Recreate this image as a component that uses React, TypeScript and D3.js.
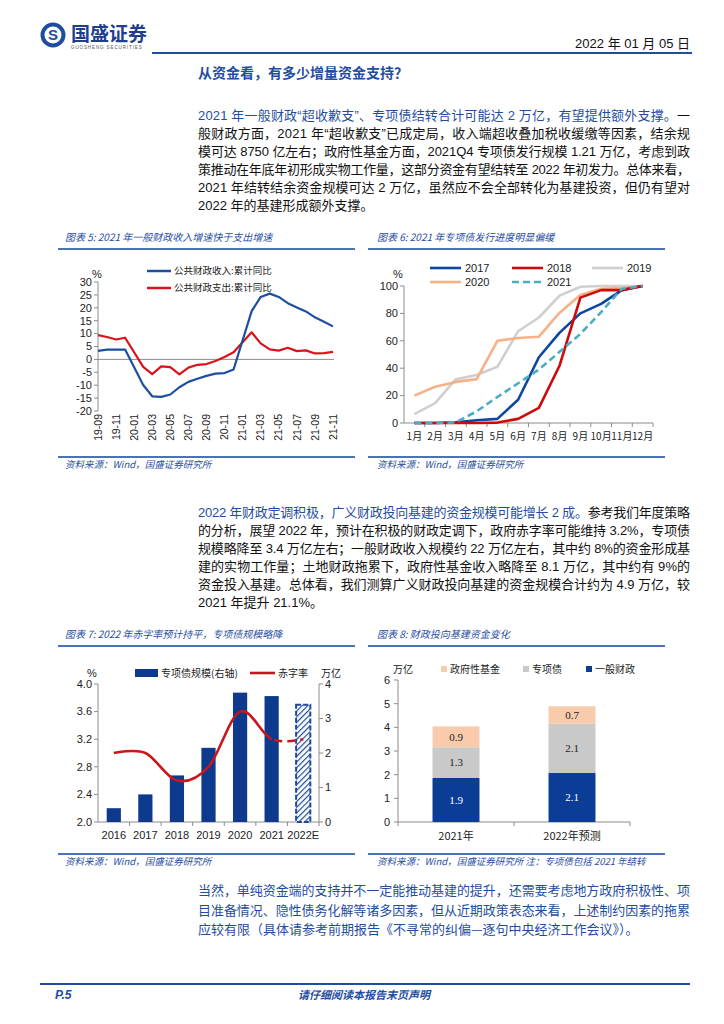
import React from "react";
import * as d3 from "d3";

const BLUE = "#1f4e9f";
const SANS = "'Liberation Sans', Arial, 'Noto Sans CJK SC', sans-serif";
const CJK = "'Noto Sans CJK SC', sans-serif";
const AXIS = "#8c8c8c";

// chart 5: 公共财政收入/支出 累计同比 (%)
const months5 = [
  "19-09", "19-10", "19-11", "19-12",
  "20-01", "20-02", "20-03", "20-04", "20-05", "20-06", "20-07", "20-08", "20-09", "20-10", "20-11", "20-12",
  "21-01", "21-02", "21-03", "21-04", "21-05", "21-06", "21-07", "21-08", "21-09", "21-10", "21-11",
];
const revenue5: (number | null)[] = [
  3.3, 3.8, 3.8, 3.8,
  null, -9.9, -14.3, -14.5, -13.6, -10.8, -8.7, -7.5, -6.4, -5.5, -5.3, -3.9,
  null, 18.7, 24.2, 25.5, 24.2, 21.8, 20.1, 18.6, 16.3, 14.6, 12.8,
];
const spending5: (number | null)[] = [
  9.4, 8.7, 7.7, 8.4,
  null, -2.9, -5.7, -2.7, -3.0, -5.8, -3.2, -2.1, -1.8, -0.6, 0.9, 2.8,
  null, 10.5, 6.2, 3.9, 3.4, 4.5, 3.2, 3.5, 2.3, 2.4, 2.9,
];

// chart 6: 专项债发行进度 (%)
const months6 = ["1月", "2月", "3月", "4月", "5月", "6月", "7月", "8月", "9月", "10月", "11月", "12月"];
const issue2017 = [0, 0, 0.5, 2, 3, 17, 48, 66, 80, 87, 97, 100];
const issue2018 = [0, 0, 0, 0, 0.3, 3, 11, 42, 91.5, 97, 97, 100];
const issue2019 = [6.5, 14.5, 32, 35, 41, 67, 77, 93, 99.5, 100, 100, 100];
const issue2020 = [20, 26.5, 30, 32, 60, 62, 63, 80.5, 93.5, 98, 98.5, 100];
const issue2021 = [0, 0, 0.5, 8.5, 19, 29, 39, 52, 65, 81, 98, 100];
const series6 = [
  { name: "2017", values: issue2017, color: "#0b46a1", dash: "" },
  { name: "2018", values: issue2018, color: "#cc0a0a", dash: "" },
  { name: "2019", values: issue2019, color: "#cfcfcf", dash: "" },
  { name: "2020", values: issue2020, color: "#f6b187", dash: "" },
  { name: "2021", values: issue2021, color: "#4bacc6", dash: "7,4" },
];

// chart 7: 专项债规模(万亿) & 赤字率(%)
const years7 = ["2016", "2017", "2018", "2019", "2020", "2021", "2022E"];
const bondScale7 = [0.4, 0.8, 1.35, 2.15, 3.75, 3.65, 3.4];
const deficit7 = [3.0, 3.0, 2.6, 2.8, 3.6, 3.2, 3.2];
const leftTicks7 = [2.0, 2.4, 2.8, 3.2, 3.6, 4.0];
const rightTicks7 = [0, 1, 2, 3, 4];

// chart 8: 财政投向基建资金 (万亿)
const cats8 = ["2021年", "2022年预测"];
const general8 = [1.86, 2.07];
const special8 = [1.3, 2.08];
const fund8 = [0.88, 0.74];

const para1 = [
  [["2021 年一般财政“超收歉支”、专项债结转合计可能达 2 万亿，有望提供额外支撑。", true], ["一", false]],
  [["般财政方面，2021 年“超收歉支”已成定局，收入端超收叠加税收缓缴等因素，结余规", false]],
  [["模可达 8750 亿左右；政府性基金方面，2021Q4 专项债发行规模 1.21 万亿，考虑到政", false]],
  [["策推动在年底年初形成实物工作量，这部分资金有望结转至 2022 年初发力。总体来看，", false]],
  [["2021 年结转结余资金规模可达 2 万亿，虽然应不会全部转化为基建投资，但仍有望对", false]],
  [["2022 年的基建形成额外支撑。", false]],
] as [string, boolean][][];

const para2 = [
  [["2022 年财政定调积极，广义财政投向基建的资金规模可能增长 2 成。", true], ["参考我们年度策略", false]],
  [["的分析，展望 2022 年，预计在积极的财政定调下，政府赤字率可能维持 3.2%，专项债", false]],
  [["规模略降至 3.4 万亿左右；一般财政收入规模约 22 万亿左右，其中约 8%的资金形成基", false]],
  [["建的实物工作量；土地财政拖累下，政府性基金收入略降至 8.1 万亿，其中约有 9%的", false]],
  [["资金投入基建。总体看，我们测算广义财政投向基建的资金规模合计约为 4.9 万亿，较", false]],
  [["2021 年提升 21.1%。", false]],
] as [string, boolean][][];

const para3 = [
  "当然，单纯资金端的支持并不一定能推动基建的提升，还需要考虑地方政府积极性、项",
  "目准备情况、隐性债务化解等诸多因素，但从近期政策表态来看，上述制约因素的拖累",
  "应较有限（具体请参考前期报告《不寻常的纠偏—逐句中央经济工作会议》）。",
];

const Paragraph = ({ lines, y0, step }: { lines: [string, boolean][][]; y0: number; step: number }) => (
  <g fontFamily={SANS} fontSize={13}>
    {lines.map((parts, i) => (
      <text
        key={i}
        x={198}
        y={y0 + i * step}
        textLength={i < lines.length - 1 ? 492 : undefined}
        lengthAdjust="spacing"
      >
        {parts.map(([t, blue], j) => (
          <tspan key={j} fill={blue ? BLUE : "#111"}>{t}</tspan>
        ))}
      </text>
    ))}
  </g>
);

const Caption = ({ x, y, x1, x2, text }: { x: number; y: number; x1: number; x2: number; text: string }) => (
  <g>
    <text x={x} y={y} fill={BLUE} fontSize={10} fontStyle="italic" fontFamily={CJK}>{text}</text>
    <line x1={x1} x2={x2} y1={y + 8} y2={y + 8} stroke="#4a72b8" strokeWidth={2} />
  </g>
);

const Source = ({ x, y, x1, x2, text }: { x: number; y: number; x1: number; x2: number; text: string }) => (
  <g>
    <line x1={x1} x2={x2} y1={y - 11} y2={y - 11} stroke="#4a72b8" strokeWidth={2} />
    <text x={x} y={y} fill={BLUE} fontSize={9.5} fontStyle="italic" fontFamily={CJK}>{text}</text>
  </g>
);

const Chart5 = () => {
  const x = d3.scalePoint<string>().domain(months5).range([98, 333]);
  const y = d3.scaleLinear().domain([-20, 30]).range([411, 282]);
  const line = d3
    .line<{ m: string; v: number }>()
    .x(d => x(d.m)!)
    .y(d => y(d.v));
  const pts = (vals: (number | null)[]) =>
    months5.map((m, i) => ({ m, v: vals[i] })).filter(d => d.v !== null) as { m: string; v: number }[];
  return (
    <g fontFamily={SANS}>
      <line x1={98} x2={98} y1={282} y2={411} stroke={AXIS} />
      {y.ticks(10).map(t => (
        <g key={t}>
          <line x1={94} x2={98} y1={y(t)} y2={y(t)} stroke={AXIS} />
          <text x={92} y={y(t)} dy="0.35em" textAnchor="end" fontSize={11} fill="#222">{t}</text>
        </g>
      ))}
      <line x1={98} x2={334} y1={y(0)} y2={y(0)} stroke={AXIS} />
      {months5.filter((_, i) => i % 2 === 0).map(m => (
        <text key={m} transform={`translate(${x(m)},414) rotate(-90)`} dy="0.35em" textAnchor="end" fontSize={10.5} fill="#222">
          {m}
        </text>
      ))}
      <text x={97} y={278} textAnchor="middle" fontSize={11} fill="#222">%</text>
      <path d={line(pts(spending5))!} fill="none" stroke="#d8141a" strokeWidth={2.2} strokeLinejoin="round" />
      <path d={line(pts(revenue5))!} fill="none" stroke="#1c4f9f" strokeWidth={2.2} strokeLinejoin="round" />
      <line x1={147} x2={171} y1={271} y2={271} stroke="#1c4f9f" strokeWidth={2.5} />
      <text x={174} y={271} dy="0.35em" fontSize={9.5} fontFamily={CJK} fill="#222">公共财政收入:累计同比</text>
      <line x1={147} x2={171} y1={288} y2={288} stroke="#d8141a" strokeWidth={2.5} />
      <text x={174} y={288} dy="0.35em" fontSize={9.5} fontFamily={CJK} fill="#222">公共财政支出:累计同比</text>
    </g>
  );
};

const Chart6 = () => {
  const x = d3.scaleBand<string>().domain(months6).range([404, 653]);
  const y = d3.scaleLinear().domain([0, 100]).range([423, 286]);
  const line = d3
    .line<number>()
    .x((_, i) => x(months6[i])! + x.bandwidth() / 2)
    .y(d => y(d));
  const legend = [
    { s: series6[0], lx: 430, ly: 268 },
    { s: series6[1], lx: 512, ly: 268 },
    { s: series6[2], lx: 592, ly: 268 },
    { s: series6[3], lx: 430, ly: 282 },
    { s: series6[4], lx: 512, ly: 282 },
  ];
  return (
    <g fontFamily={SANS}>
      <line x1={404} x2={404} y1={286} y2={423} stroke={AXIS} />
      {y.ticks(5).map(t => (
        <g key={t}>
          <line x1={400} x2={404} y1={y(t)} y2={y(t)} stroke={AXIS} />
          <text x={398} y={y(t)} dy="0.35em" textAnchor="end" fontSize={11} fill="#222">{t}</text>
        </g>
      ))}
      <line x1={404} x2={653} y1={423} y2={423} stroke={AXIS} />
      {months6.map(m => (
        <g key={m}>
          <line x1={x(m)! + x.bandwidth()} x2={x(m)! + x.bandwidth()} y1={423} y2={427} stroke={AXIS} />
          <text x={x(m)! + x.bandwidth() / 2} y={440} textAnchor="middle" fontSize={10} fontFamily={CJK} fill="#222">{m}</text>
        </g>
      ))}
      <text x={398} y={278} textAnchor="middle" fontSize={11} fill="#222">%</text>
      {[series6[2], series6[3], series6[0], series6[1], series6[4]].map(s => (
        <path key={s.name} d={line(s.values)!} fill="none" stroke={s.color} strokeWidth={2.6} strokeDasharray={s.dash} strokeLinejoin="round" />
      ))}
      {legend.map(({ s, lx, ly }) => (
        <g key={s.name}>
          <line x1={lx} x2={lx + 31} y1={ly} y2={ly} stroke={s.color} strokeWidth={2.6} strokeDasharray={s.dash} />
          <text x={lx + 35} y={ly} dy="0.35em" fontSize={11} fill="#222">{s.name}</text>
        </g>
      ))}
    </g>
  );
};

const Chart7 = () => {
  const x = d3.scaleBand<string>().domain(years7).range([98, 319]).paddingInner(0.55).paddingOuter(0.275);
  const yL = d3.scaleLinear().domain([2, 4]).range([822, 684]);
  const yR = d3.scaleLinear().domain([0, 4]).range([822, 684]);
  const cx = (k: string) => x(k)! + x.bandwidth() / 2;
  const curve = d3
    .line<number>()
    .x((_, i) => cx(years7[i]))
    .y(d => yL(d))
    .curve(d3.curveCardinal.tension(0));
  const split = cx("2021");
  const last = years7.length - 1;
  return (
    <g fontFamily={SANS}>
      <defs>
        <pattern id="hatch" width={4} height={4} patternUnits="userSpaceOnUse" patternTransform="rotate(45)">
          <rect width={4} height={4} fill="#fff" />
          <line x1={0} x2={0} y1={0} y2={4} stroke="#1d4aa0" strokeWidth={2.4} />
        </pattern>
        <clipPath id="solidClip"><rect x={0} y={600} width={split} height={300} /></clipPath>
        <clipPath id="dashClip"><rect x={split} y={600} width={100} height={300} /></clipPath>
      </defs>
      <line x1={98} x2={98} y1={684} y2={822} stroke={AXIS} />
      <line x1={319} x2={319} y1={684} y2={822} stroke={AXIS} />
      <line x1={98} x2={319} y1={822} y2={822} stroke={AXIS} />
      {leftTicks7.map(t => (
        <g key={t}>
          <line x1={94} x2={98} y1={yL(t)} y2={yL(t)} stroke={AXIS} />
          <text x={92} y={yL(t)} dy="0.35em" textAnchor="end" fontSize={11} fill="#222">{t.toFixed(1)}</text>
        </g>
      ))}
      {rightTicks7.map(t => (
        <g key={t}>
          <line x1={319} x2={323} y1={yR(t)} y2={yR(t)} stroke={AXIS} />
          <text x={325} y={yR(t)} dy="0.35em" fontSize={11} fill="#222">{t}</text>
        </g>
      ))}
      {years7.map((k, i) => (
        <g key={k}>
          <line x1={98 + (i + 1) * x.step()} x2={98 + (i + 1) * x.step()} y1={822} y2={826} stroke={AXIS} />
          <text x={cx(k)} y={839} textAnchor="middle" fontSize={11} fill="#222">{k}</text>
        </g>
      ))}
      {years7.map((k, i) => (
        <rect
          key={k}
          x={x(k)}
          y={yR(bondScale7[i])}
          width={x.bandwidth()}
          height={822 - yR(bondScale7[i])}
          fill={i === last ? "url(#hatch)" : "#0d3a8c"}
          stroke={i === last ? "#1d4aa0" : "none"}
          strokeWidth={i === last ? 2 : 0}
          strokeDasharray={i === last ? "5,2" : undefined}
        />
      ))}
      <path d={curve(deficit7)!} clipPath="url(#solidClip)" fill="none" stroke="#c8161d" strokeWidth={2.6} />
      <path d={curve(deficit7)!} clipPath="url(#dashClip)" fill="none" stroke="#c8161d" strokeWidth={2.6} strokeDasharray="8,5" />
      <text x={92} y={673} dy="0.35em" textAnchor="middle" fontSize={11} fill="#222">%</text>
      <text x={331} y={673} dy="0.35em" textAnchor="middle" fontSize={10} fontFamily={CJK} fill="#222">万亿</text>
      <rect x={135} y={669} width={23} height={8} fill="#0d3a8c" />
      <text x={161} y={673} dy="0.35em" fontSize={10} fontFamily={CJK} fill="#222">专项债规模(右轴)</text>
      <line x1={250} x2={275} y1={673} y2={673} stroke="#c8161d" strokeWidth={2.6} />
      <text x={278} y={673} dy="0.35em" fontSize={10} fontFamily={CJK} fill="#222">赤字率</text>
    </g>
  );
};

const Chart8 = () => {
  const x = d3.scaleBand<string>().domain(cats8).range([398, 630]).paddingInner(0.595).paddingOuter(0.2975);
  const y = d3.scaleLinear().domain([0, 6]).range([822, 680]);
  const rows = cats8.map((c, i) => ({ c, general: general8[i], special: special8[i], fund: fund8[i] }));
  const keys = ["general", "special", "fund"] as const;
  const colors: Record<string, string> = { general: "#0b3d96", special: "#c9c9c9", fund: "#f8cbad" };
  const stacked = d3.stack<any>().keys(keys as any)(rows);
  const legend = [
    { k: "fund", label: "政府性基金", lx: 441 },
    { k: "special", label: "专项债", lx: 523 },
    { k: "general", label: "一般财政", lx: 586 },
  ];
  return (
    <g fontFamily={SANS}>
      <line x1={398} x2={398} y1={680} y2={822} stroke={AXIS} />
      {y.ticks(6).map(t => (
        <g key={t}>
          <line x1={394} x2={398} y1={y(t)} y2={y(t)} stroke={AXIS} />
          <text x={390} y={y(t)} dy="0.35em" textAnchor="end" fontSize={11} fill="#222">{t}</text>
        </g>
      ))}
      <line x1={398} x2={630} y1={822} y2={822} stroke={AXIS} />
      {[0, 1, 2].map(i => (
        <line key={i} x1={398 + i * x.step()} x2={398 + i * x.step()} y1={822} y2={826} stroke={AXIS} />
      ))}
      {cats8.map(c => (
        <text key={c} x={x(c)! + x.bandwidth() / 2} y={840} textAnchor="middle" fontSize={11} fontFamily={CJK} fill="#222">{c}</text>
      ))}
      {stacked.map(layer =>
        layer.map((d, i) => (
          <g key={layer.key + i}>
            <rect x={x(cats8[i])} y={y(d[1])} width={x.bandwidth()} height={y(d[0]) - y(d[1])} fill={colors[layer.key]} />
            <text
              x={x(cats8[i])! + x.bandwidth() / 2}
              y={(y(d[0]) + y(d[1])) / 2}
              dy="0.35em"
              textAnchor="middle"
              fontSize={11}
              fontFamily="'Liberation Serif', serif"
              fill={layer.key === "general" ? "#fff" : "#222"}
            >
              {(d[1] - d[0]).toFixed(1)}
            </text>
          </g>
        ))
      )}
      <text x={393} y={669} dy="0.35em" fontSize={10} fontFamily={CJK} fill="#222">万亿</text>
      {legend.map(l => (
        <g key={l.k}>
          <rect x={l.lx} y={666} width={6} height={6} fill={colors[l.k]} />
          <text x={l.lx + 9} y={669} dy="0.35em" fontSize={10} fontFamily={CJK} fill="#222">{l.label}</text>
        </g>
      ))}
    </g>
  );
};

const App = () => (
  <div style={{ position: "absolute", left: 0, top: 0 }}>
    <svg width={724} height={1024} style={{ display: "block", background: "#fff" }}>
      {/* header */}
      <g>
        <circle cx={53} cy={35} r={10.5} fill="none" stroke={BLUE} strokeWidth={4} />
        <text x={53} y={35} dy="0.36em" textAnchor="middle" fontSize={15} fontWeight="bold" fill={BLUE} fontFamily={SANS}>S</text>
        <text x={71} y={41} fontSize={19} fontWeight="bold" fill="#1f3f8c" fontFamily={CJK}>国盛证券</text>
        <text x={71} y={49} fontSize={4.5} fill="#555" fontFamily={SANS} letterSpacing={0.9}>GUOSHENG SECURITIES</text>
        <text x={690} y={48} textAnchor="end" fontSize={13} fill="#111" fontFamily={SANS}>2022 年 01 月 05 日</text>
        <line x1={152} x2={692} y1={53} y2={53} stroke={BLUE} strokeWidth={2} />
        <text x={198} y={78} fontSize={14} fontWeight="bold" fill={BLUE} fontFamily={CJK}>从资金看，有多少增量资金支持？</text>
      </g>

      <Paragraph lines={para1} y0={120} step={18} />

      <Caption x={65} y={241} x1={58} x2={355} text="图表 5:  2021 年一般财政收入增速快于支出增速" />
      <Caption x={377} y={241} x1={368} x2={665} text="图表 6:  2021 年专项债发行进度明显偏缓" />
      <Chart5 />
      <Chart6 />
      <Source x={65} y={468} x1={58} x2={355} text="资料来源：Wind，国盛证券研究所" />
      <Source x={377} y={468} x1={368} x2={665} text="资料来源：Wind，国盛证券研究所" />

      <Paragraph lines={para2} y0={517} step={18} />

      <Caption x={65} y={638} x1={58} x2={355} text="图表 7:  2022 年赤字率预计持平，专项债规模略降" />
      <Caption x={377} y={638} x1={368} x2={665} text="图表 8:  财政投向基建资金变化" />
      <Chart7 />
      <Chart8 />
      <Source x={65} y={865} x1={58} x2={355} text="资料来源：Wind，国盛证券研究所" />
      <Source x={377} y={865} x1={368} x2={665} text="资料来源：Wind，国盛证券研究所  注：专项债包括 2021 年结转" />

      <g fontFamily={CJK} fontSize={13} fill={BLUE}>
        {para3.map((t, i) => (
          <text key={i} x={198} y={895 + i * 19.5} textLength={i < para3.length - 1 ? 492 : undefined} lengthAdjust="spacing">
            {t}
          </text>
        ))}
      </g>

      <line x1={40} x2={690} y1={984} y2={984} stroke={BLUE} strokeWidth={2} />
      <text x={55} y={999} fontSize={12} fontWeight="bold" fontStyle="italic" fill={BLUE} fontFamily={SANS}>P.5</text>
      <text x={364} y={999} textAnchor="middle" fontSize={11} fontWeight="bold" fontStyle="italic" fill={BLUE} fontFamily={CJK}>请仔细阅读本报告末页声明</text>
    </svg>
  </div>
);

export default App;
